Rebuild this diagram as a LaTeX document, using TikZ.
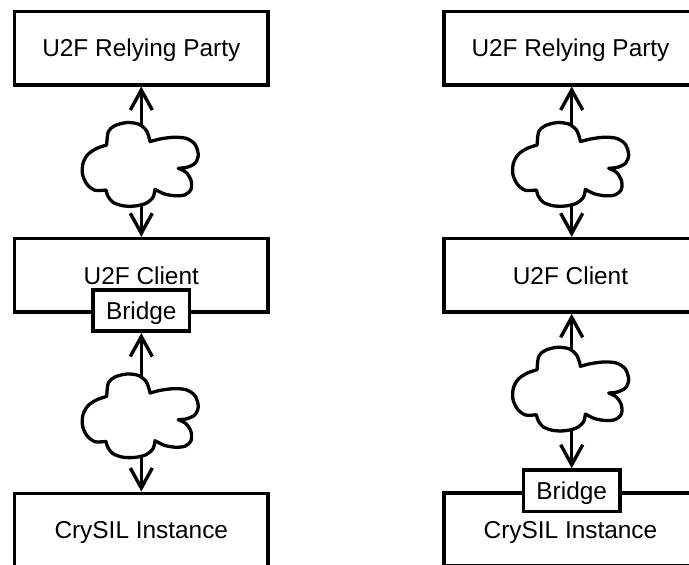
\documentclass[tikz,border=0pt]{standalone}
\usepackage{fontspec}
\setmainfont{Liberation Sans}
\usetikzlibrary{arrows.meta}
\tikzset{
  box/.style={draw, line width=3.6pt, minimum width=253.3pt, minimum height=73.4pt,
    inner sep=0pt, text height=17.4pt, text depth=0pt, font=\fontsize{24.4}{28}\selectfont},
  bridgebox/.style={box, fill=white, minimum width=96.7pt, minimum height=41.5pt},
  arr/.style={line width=3.4pt, -{Straight Barb[length=20pt,width=22pt]}},
  cloudline/.style={line width=3.3pt, line join=round},
  cloudpic/.pic={
    \draw[cloudline]
      plot[smooth] coordinates {(-33.3,-18.3) (-31.7,-31.7) (-25,-37.7) (-13.3,-40.7) (-1.7,-39.3) (6,-33.3) (9.3,-25) (10,-21.7)}
      -- plot[smooth] coordinates {(10,-21.7) (20,-24.3) (33,-26) (46,-25) (55,-19) (58.3,-8.3) (55,0) (47,4) (38.3,5)}
      -- plot[smooth] coordinates {(38.3,5) (46,9) (51,17) (51,26) (45,31.5) (35,32.5) (24,30.5) (15,26)}
      -- plot[smooth] coordinates {(15,26) (13,34) (6,40) (-5,42.7) (-17,42.5) (-27,39) (-32,33) (-34,26.7)}
      -- plot[smooth] coordinates {(-34,26.7) (-45,27) (-53,21) (-57.5,11) (-57,0) (-52,-9) (-43,-15) (-33.3,-18.3)}
      -- cycle;
    \coordinate (-top) at (1.3,-37);
    \coordinate (-bot) at (1.3,41);
  }
}
\begin{document}
\begin{tikzpicture}[x=1pt,y=-1pt]
\useasboundingbox (0,0) rectangle (689,565);
\clip (0,0) rectangle (689,565);
% left column
\node[box] (lrp) at (141.3,48) {U2F Relying Party};
\node[box] (lcl) at (141.3,275.3) {U2F Client};
\node[bridgebox] (lbr) at (141.3,310.5) {Bridge};
\node[box] (lcs) at (141.3,530) {CrySIL Instance};
\pic (lc1) at (140,163.3) {cloudpic};
\pic (lc2) at (140,414.7) {cloudpic};
\draw[arr] (lc1-top) -- (lc1-top |- lrp.south);
\draw[arr] (lc1-bot) -- (lc1-bot |- lcl.north);
\draw[arr] (lc2-top) -- (lc2-top |- lbr.south);
\draw[arr] (lc2-bot) -- (lc2-bot |- lcs.north);
% right column
\node[box] (rrp) at (570.5,48) {U2F Relying Party};
\node[box] (rcl) at (570.5,275.3) {U2F Client};
\node[box] (rcs) at (570.5,529.5) {CrySIL Instance};
\node[bridgebox] (rbr) at (571.7,490.8) {Bridge};
\pic (rc1) at (570.4,163.3) {cloudpic};
\pic (rc2) at (570.4,388) {cloudpic};
\draw[arr] (rc1-top) -- (rc1-top |- rrp.south);
\draw[arr] (rc1-bot) -- (rc1-bot |- rcl.north);
\draw[arr] (rc2-top) -- (rc2-top |- rcl.south);
\draw[arr] (rc2-bot) -- (rc2-bot |- rbr.north);
\end{tikzpicture}
\end{document}
